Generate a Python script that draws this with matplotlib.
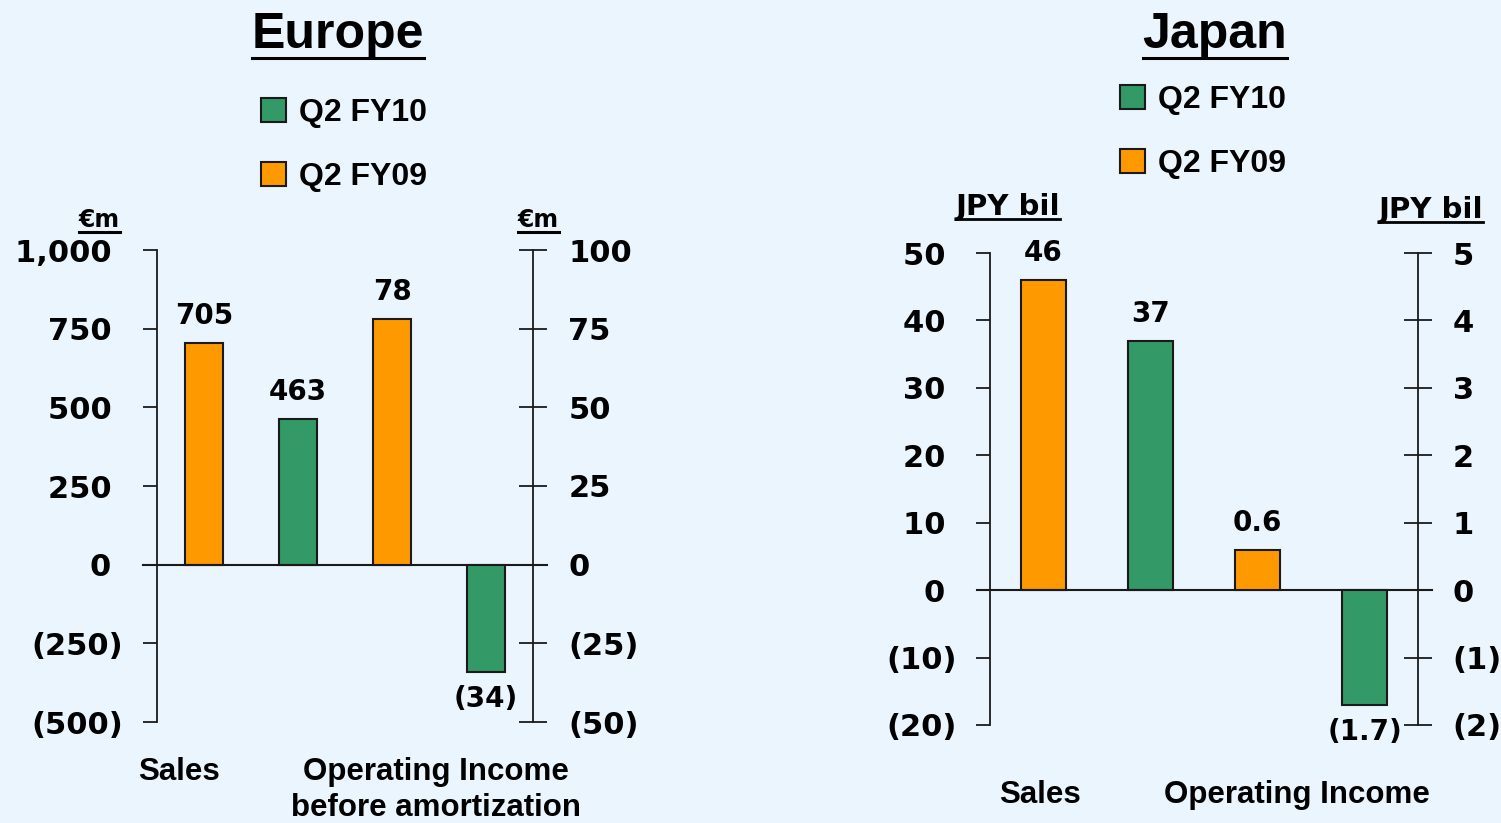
import matplotlib
matplotlib.use("Agg")
import matplotlib.pyplot as plt
from matplotlib.lines import Line2D
from matplotlib.patches import Patch

W, H = 1501, 823
BG = "#ebf5fe"
GREEN = "#339966"
ORANGE = "#ff9900"
EDGE = "#1a1a1a"
ARIAL = "Liberation Sans"
WIDE = "DejaVu Sans"

# series (FY09 shown first, FY10 second in each group)
legend_names = ["Q2 FY10", "Q2 FY09"]
bar_colors = [ORANGE, GREEN, ORANGE, GREEN]

# Europe, EUR m
eu_sales = [705, 463]
eu_oi = [78, -34]
eu_value_labels = ["705", "463", "78", "(34)"]
eu_left_ticks = [-500, -250, 0, 250, 500, 750, 1000]
eu_right_ticks = [-50, -25, 0, 25, 50, 75, 100]

# Japan, JPY bil
jp_sales = [46, 37]
jp_oi = [0.6, -1.7]
jp_value_labels = ["46", "37", "0.6", "(1.7)"]
jp_left_ticks = [-20, -10, 0, 10, 20, 30, 40, 50]
jp_right_ticks = [-2, -1, 0, 1, 2, 3, 4, 5]


def fmt(v, pad=False):
    if v < 0:
        return f"({abs(v):,})"
    s = f"{v:,}"
    return s + "\u2008" if pad else s


def fx(px):
    return px / W


def fy(py):
    return 1 - py / H


fig = plt.figure(figsize=(W / 100, H / 100), dpi=100)
fig.patch.set_facecolor(BG)


def make_panel(box, sales, oi, labels, lticks, rticks, lpad, rpad, zero_ext, bw):
    x0, yt, x1, yb = box
    ax = fig.add_axes([fx(x0), fy(yb), fx(x1) - fx(x0), fy(yt) - fy(yb)])
    ax.set_facecolor("none")
    ax2 = ax.twinx()
    ax2.set_facecolor("none")
    ax.set_xlim(-0.5, 3.5)
    ax.set_ylim(lticks[0], lticks[-1])
    ax2.set_ylim(rticks[0], rticks[-1])
    for a in (ax, ax2):
        for s in ("top", "bottom"):
            a.spines[s].set_visible(False)
        a.tick_params(axis="x", bottom=False, labelbottom=False)
    ax.spines["right"].set_visible(False)
    ax2.spines["left"].set_visible(False)
    ax.spines["left"].set_linewidth(1.3)
    ax2.spines["right"].set_linewidth(1.3)
    ax.spines["left"].set_color(EDGE)
    ax2.spines["right"].set_color(EDGE)

    ax.set_yticks(lticks)
    ax.set_yticklabels([fmt(v, pad=True) for v in lticks])
    ax2.set_yticks(rticks)
    ax2.set_yticklabels([fmt(v) for v in rticks])
    ax.tick_params(axis="y", direction="out", length=10, width=1.3,
                   color=EDGE, pad=lpad)
    ax2.tick_params(axis="y", direction="inout", length=19.5, width=1.3,
                    color=EDGE, pad=rpad)
    for lab in ax.get_yticklabels() + ax2.get_yticklabels():
        lab.set_fontfamily(WIDE)
        lab.set_fontweight("bold")
        lab.set_fontsize(22)

    # sales on the left scale, operating income on the right scale
    ax.bar([0, 1], sales, width=bw, color=bar_colors[:2], edgecolor=EDGE,
           linewidth=1.5, zorder=3)
    ax2.bar([2, 3], oi, width=bw, color=bar_colors[2:], edgecolor=EDGE,
            linewidth=1.5, zorder=3)
    ax.axhline(0, xmin=zero_ext[0], xmax=zero_ext[1], color=EDGE, lw=1.5,
               clip_on=False, zorder=4)

    for i, (a, v) in enumerate(zip([ax, ax, ax2, ax2], list(sales) + list(oi))):
        a.annotate(labels[i], (i, v), xytext=(0, 19.5 if v >= 0 else -19.5),
                   textcoords="offset points", ha="center", va="center",
                   fontsize=20, fontweight="bold", family=WIDE)
    return ax, ax2


eu_ax, eu_ax2 = make_panel((157, 250, 533, 722), eu_sales, eu_oi,
                           eu_value_labels, eu_left_ticks, eu_right_ticks,
                           lpad=14.4, rpad=15.8, zero_ext=(-0.037, 1.037), bw=0.4)
jp_ax, jp_ax2 = make_panel((990, 253, 1418, 725), jp_sales, jp_oi,
                           jp_value_labels, jp_left_ticks, jp_right_ticks,
                           lpad=13.7, rpad=15.1, zero_ext=(-0.030, 1.033), bw=0.42)

# category labels under the axes
cat_kw = dict(ha="center", va="center", fontsize=22.5, fontweight="bold",
              family=ARIAL, clip_on=False)
t = eu_ax.get_xaxis_transform()
eu_ax.text(-0.27, -0.106, "Sales", transform=t, **cat_kw)
eu_ax.text(2.47, -0.106, "Operating Income", transform=t, **cat_kw)
eu_ax.text(2.47, -0.182, "before amortization", transform=t, **cat_kw)
t = jp_ax.get_xaxis_transform()
jp_ax.text(-0.03, -0.148, "Sales", transform=t, **cat_kw)
jp_ax.text(2.37, -0.148, "Operating Income", transform=t, **cat_kw)

# titles and unit captions (underlined below)
titles = [
    fig.text(fx(338), fy(48), "Europe", ha="center", va="baseline",
             fontsize=36, fontweight="bold", family=ARIAL),
    fig.text(fx(1215), fy(48), "Japan", ha="center", va="baseline",
             fontsize=36, fontweight="bold", family=ARIAL),
]
units = [
    (fig.text(fx(99.5), fy(227), "€m", ha="center", va="baseline",
              fontsize=17, fontweight="bold", family=WIDE), 232, 2.2),
    (fig.text(fx(538.5), fy(227), "€m", ha="center", va="baseline",
              fontsize=17, fontweight="bold", family=WIDE), 232, 2.2),
    (fig.text(fx(1008), fy(215), "JPY bil", ha="center", va="baseline",
              fontsize=21, fontweight="bold", family=WIDE), 219, 2.0),
    (fig.text(fx(1431), fy(218), "JPY bil", ha="center", va="baseline",
              fontsize=21, fontweight="bold", family=WIDE), 222, 2.0),
]

# legends
handles = [Patch(facecolor=GREEN, edgecolor=EDGE, linewidth=1.5),
           Patch(facecolor=ORANGE, edgecolor=EDGE, linewidth=1.5)]
leg_kw = dict(loc="upper left", frameon=False, borderpad=0, borderaxespad=0,
              handlelength=0.78, handleheight=0.78, handletextpad=0.4,
              labelspacing=1.07, prop=dict(family=ARIAL, weight="bold", size=23))
fig.legend(handles, legend_names, bbox_to_anchor=(fx(261), fy(98)), **leg_kw)
fig.legend(handles, legend_names, bbox_to_anchor=(fx(1120), fy(85)), **leg_kw)

fig.canvas.draw()
renderer = fig.canvas.get_renderer()


def underline(txt, y_px, lw):
    bb = txt.get_window_extent(renderer)
    fig.add_artist(Line2D([bb.x0 / W, bb.x1 / W], [fy(y_px), fy(y_px)],
                          transform=fig.transFigure, color="black", lw=lw))


for tt in titles:
    underline(tt, 58, 2.2)
for tt, y, lw in units:
    underline(tt, y, lw)

fig.savefig("out.png", dpi=100, facecolor=BG)
